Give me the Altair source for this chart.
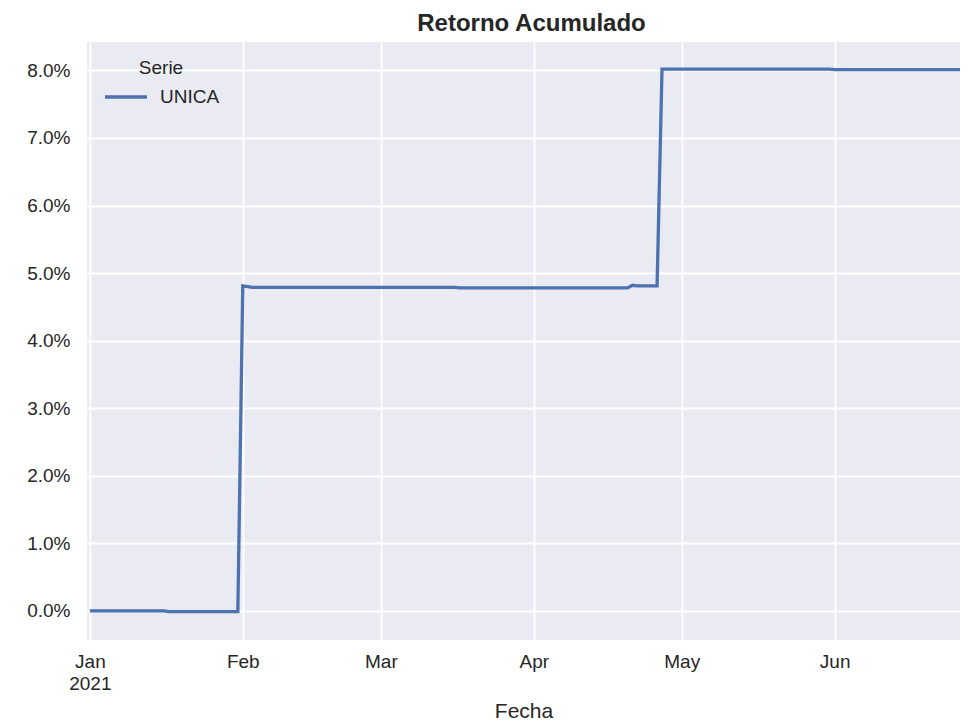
import altair as alt
import pandas as pd

# Data (cumulative return, in percent)
fechas = ["2021-01-01", "2021-01-16", "2021-01-17", "2021-01-31", "2021-02-01",
          "2021-02-03", "2021-03-16", "2021-03-17", "2021-04-20", "2021-04-21",
          "2021-04-22", "2021-04-26", "2021-04-27", "2021-05-31", "2021-06-01",
          "2021-06-30"]
retorno_pct = [0.00, 0.00, -0.01, -0.01, 4.81,
               4.79, 4.79, 4.78, 4.78, 4.82,
               4.81, 4.81, 8.02, 8.02, 8.01,
               8.01]
serie = "UNICA"

df = pd.DataFrame({
    "Fecha": [f + "T00:00:00" for f in fechas],
    "Retorno": [v / 100 for v in retorno_pct],
    "Serie": [serie] * len(fechas),
})

FONT = "Liberation Sans"
TXT = "#262626"

x_axis = alt.Axis(
    title="Fecha",
    tickCount={"interval": "month", "step": 1},
    labelExpr="month(datum.value) == 0 ? [timeFormat(datum.value, '%b'), timeFormat(datum.value, '%Y')] : timeFormat(datum.value, '%b')",
    labelLineHeight=22,
    labelPadding=12,
    labelAngle=0,
    titlePadding=7,
    labelFlush=False,
)

y_axis = alt.Axis(
    title=None,
    format=".1%",
    values=[0, 0.01, 0.02, 0.03, 0.04, 0.05, 0.06, 0.07, 0.08],
    labelPadding=17,
)

chart = alt.Chart(df).mark_line(strokeWidth=3.3, clip=True).encode(
    x=alt.X("Fecha:T", axis=x_axis,
            scale=alt.Scale(domain=[alt.DateTime(year=2020, month=12, date=31, hours=10),
                                    alt.DateTime(year=2021, month=6, date=26, hours=10)])),
    y=alt.Y("Retorno:Q", axis=y_axis,
            scale=alt.Scale(domain=[-0.0043, 0.0842], nice=False, zero=False)),
    color=alt.Color("Serie:N",
                    scale=alt.Scale(domain=[serie], range=["#4C72B0"]),
                    legend=alt.Legend(title="Serie", orient="none", legendX=16, legendY=17,
                                      titleAnchor="middle", symbolType="stroke",
                                      symbolSize=1764, symbolStrokeWidth=3.3,
                                      labelOffset=11, titlePadding=-4, padding=0)),
).properties(
    width=873,
    height=598,
    title=alt.TitleParams("Retorno Acumulado", fontSize=24, fontWeight="bold",
                          font=FONT, color=TXT, offset=6, dx=8, anchor="middle"),
    autosize=alt.AutoSizeParams(type="none"),
    padding={"left": 79, "top": 34, "right": 0, "bottom": 80},
    background="white",
).configure_view(
    fill="#EAEAF2", stroke=None,
).configure_axis(
    domain=False, ticks=False, tickSize=0, grid=True, gridColor="white", gridWidth=1.8,
    gridOpacity=1,
    labelFont=FONT, labelFontSize=19, labelColor=TXT,
    titleFont=FONT, titleFontSize=21, titleColor=TXT, titleFontWeight="normal",
).configure_legend(
    labelFont=FONT, labelFontSize=19, labelColor=TXT,
    titleFont=FONT, titleFontSize=19, titleColor=TXT, titleFontWeight="normal",
)

chart.save("out.html", embed_options={"renderer": "svg", "actions": False})
